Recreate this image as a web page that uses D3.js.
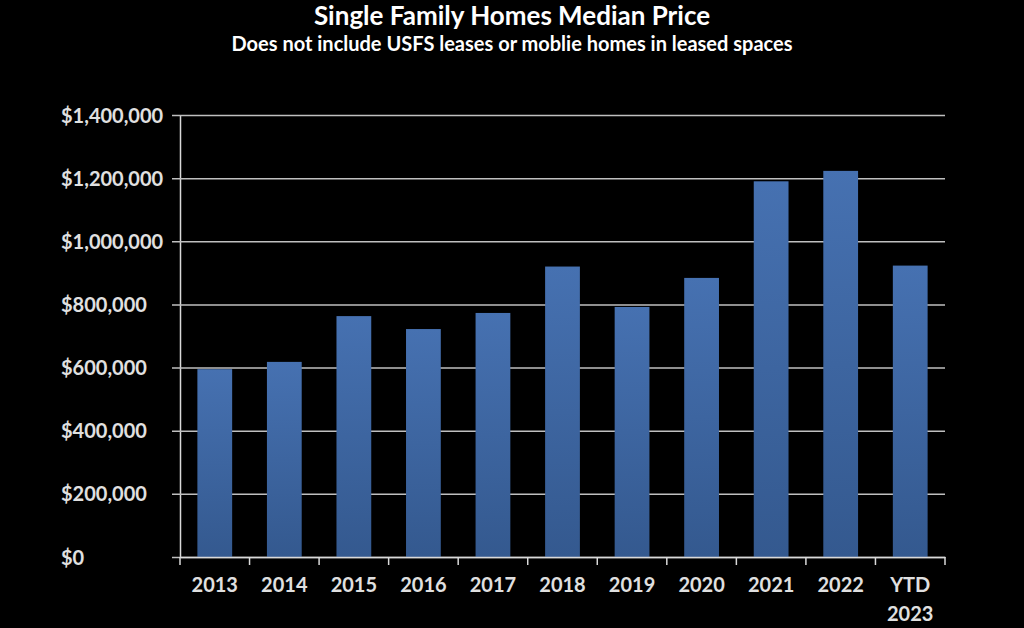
<!doctype html>
<html>
<head>
<style>
  body { margin: 0; background: #000; }
  svg text { font-family: Lato, "Open Sans", sans-serif; font-weight: bold; }
</style>
<script src="https://d3js.org/d3.v7.min.js"></script>
</head>
<body>
<svg width="1024" height="628"></svg>
<script>
var years = ["2013", "2014", "2015", "2016", "2017", "2018", "2019", "2020", "2021", "2022", "YTD 2023"];
var medianPrice = [595000, 618000, 763000, 722000, 773000, 920000, 792000, 884000, 1190000, 1223000, 923000];
var yTicks = [0, 200000, 400000, 600000, 800000, 1000000, 1200000, 1400000];

var svg = d3.select("svg");
var plotLeft = 180, plotRight = 945, plotTop = 115, plotBottom = 557;

var x = d3.scaleBand().domain(years).range([plotLeft, plotRight]).paddingInner(0.5).paddingOuter(0.25);
var y = d3.scaleLinear().domain([0, 1400000]).range([plotBottom, plotTop]);

svg.append("rect").attr("width", 1024).attr("height", 628).attr("fill", "#000");

var grad = svg.append("defs").append("linearGradient")
    .attr("id", "barGrad").attr("x1", 0).attr("y1", 0).attr("x2", 0).attr("y2", 1);
grad.append("stop").attr("offset", "0%").attr("stop-color", "#4671b1");
grad.append("stop").attr("offset", "100%").attr("stop-color", "#34598f");

// title
svg.append("text").attr("x", 512).attr("y", 25).attr("text-anchor", "middle")
    .attr("fill", "#fff").attr("font-size", 26).text("Single Family Homes Median Price");
svg.append("text").attr("x", 512).attr("y", 51).attr("text-anchor", "middle")
    .attr("fill", "#fff").attr("font-size", 20).text("Does not include USFS leases or moblie homes in leased spaces");

// y axis + gridlines (labels are left aligned)
var yAxis = svg.append("g").attr("transform", "translate(" + plotLeft + ",0)")
    .call(d3.axisLeft(y).tickValues(yTicks).tickSize(8).tickSizeOuter(0)
        .tickFormat(function(d) { return "$" + d3.format(",")(d); }));
yAxis.select(".domain").attr("stroke", "#d9d9d9").attr("stroke-width", 1.5);
yAxis.selectAll(".tick line").attr("stroke", "#bfbfbf").attr("stroke-width", 1.5)
    .attr("x2", plotRight - plotLeft).attr("x1", -8);
yAxis.selectAll(".tick text").attr("fill", "#e0e0e0").attr("font-size", 20)
    .attr("text-anchor", "start").attr("x", 61 - plotLeft).attr("dy", "0.35em");

// bars
svg.selectAll(".bar").data(years).enter().append("rect")
    .attr("class", "bar")
    .attr("x", function(d) { return x(d); })
    .attr("y", function(d, i) { return y(medianPrice[i]); })
    .attr("width", x.bandwidth())
    .attr("height", function(d, i) { return plotBottom - y(medianPrice[i]); })
    .attr("fill", "url(#barGrad)");

// x axis
var step = x.step();
var xAxis = svg.append("g").attr("transform", "translate(0," + plotBottom + ")")
    .call(d3.axisBottom(x).tickSize(0).tickSizeOuter(0));
xAxis.select(".domain").attr("stroke", "#d9d9d9").attr("stroke-width", 1.5);
xAxis.selectAll(".tick text").remove();
xAxis.selectAll(".tick").each(function(d) {
    var t = d3.select(this);
    var parts = d.split(" ");
    var txt = t.append("text").attr("fill", "#e0e0e0").attr("font-size", 20)
        .attr("text-anchor", "middle").attr("y", 35);
    parts.forEach(function(p, k) {
        txt.append("tspan").attr("x", 0).attr("dy", k === 0 ? 0 : 29).text(p);
    });
});
// category separators
var bounds = years.map(function(d) { return x(d) - step * 0.25; }).concat([plotRight]);
xAxis.selectAll(".sep").data(bounds).enter().append("line")
    .attr("x1", function(d) { return d; }).attr("x2", function(d) { return d; })
    .attr("y1", 0).attr("y2", 8).attr("stroke", "#d9d9d9").attr("stroke-width", 1.5);
</script>
</body>
</html>
